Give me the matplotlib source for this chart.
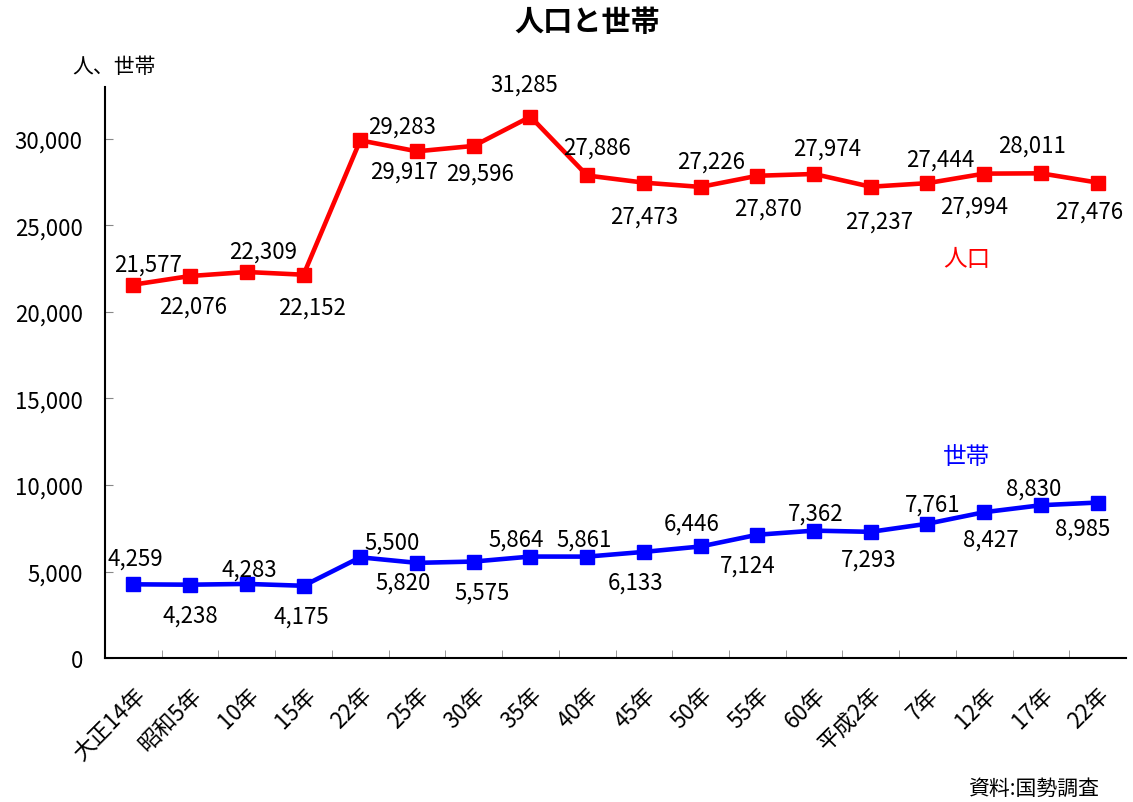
import numpy as np
import matplotlib.pyplot as plt

plt.rcParams['font.family'] = ['Noto Sans CJK JP', 'DejaVu Sans']

# データ
years = ["大正14年", "昭和5年", "10年", "15年", "22年", "25年", "30年", "35年", "40年",
         "45年", "50年", "55年", "60年", "平成2年", "7年", "12年", "17年", "22年"]
population = [21577, 22076, 22309, 22152, 29917, 29283, 29596, 31285, 27886,
              27473, 27226, 27870, 27974, 27237, 27444, 27994, 28011, 27476]
households = [4259, 4238, 4283, 4175, 5820, 5500, 5575, 5864, 5861,
              6133, 6446, 7124, 7362, 7293, 7761, 8427, 8830, 8985]

# ラベル位置(ピクセル, 点からのずれ, 下向きが正)
pop_off = [(15, -21), (3, 30), (16, -21), (8, 32), (44, 31), (-15, -25), (6, 27),
           (-6, -33), (10, -28), (0, 33), (11, -26), (11, 32), (13, -26), (8, 34),
           (13, -24), (-10, 32), (-9, -28), (-8, 29)]
hh_off = [(2, -26), (0, 30), (2, -15), (-2, 30), (43, 25), (-25, -21), (8, 31),
          (-14, -17), (-3, -17), (-8, 30), (-9, -23), (-10, 30), (2, -18), (-2, 27),
          (5, -20), (7, 27), (-7, -17), (-15, 26)]

fig = plt.figure(figsize=(11.33, 8.03), dpi=100)
ax = fig.add_axes([0.0927, 0.1793, 0.9011, 0.7111])

x = np.arange(len(years))
ax.plot(x, population, color='#ff0000', lw=3.3, marker='s', ms=10, clip_on=False)
ax.plot(x, households, color='#0000ff', lw=3.3, marker='s', ms=10, clip_on=False)

for i in range(len(x)):
    ax.annotate(f"{population[i]:,}", (x[i], population[i]),
                xytext=(pop_off[i][0], -pop_off[i][1]),
                textcoords='offset pixels', ha='center', va='center', fontsize=16)
    ax.annotate(f"{households[i]:,}", (x[i], households[i]),
                xytext=(hh_off[i][0], -hh_off[i][1]),
                textcoords='offset pixels', ha='center', va='center', fontsize=16)

ax.set_xlim(-0.5, len(years) - 0.5)
ax.set_ylim(0, 33000)
ax.set_yticks(np.arange(0, 30001, 5000))
ax.set_yticklabels([f"{v:,}" for v in range(0, 30001, 5000)], fontsize=16)
ax.tick_params(axis='y', length=6, direction='in', color='#888888', pad=16)

ax.set_xticks(x)
ax.set_xticklabels(years, rotation=45, ha='right', rotation_mode='anchor', fontsize=16)
ax.set_xticks(x[:-1] + 0.5, minor=True)
ax.tick_params(axis='x', which='major', length=0, pad=18)
ax.tick_params(axis='x', which='minor', length=6, direction='in', color='#888888')

for s in ['top', 'right']:
    ax.spines[s].set_visible(False)
for s in ['left', 'bottom']:
    ax.spines[s].set_linewidth(1.5)

fig.text(0.518, 0.973, "人口と世帯", ha='center', va='center', fontsize=21, fontweight='bold')
fig.text(0.101, 0.917, "人、世帯", ha='center', va='center', fontsize=15)
fig.text(0.853, 0.677, "人口", ha='center', va='center', fontsize=17, color='#ff0000')
fig.text(0.853, 0.430, "世帯", ha='center', va='center', fontsize=17, color='#0000ff')
fig.text(0.912, 0.018, "資料:国勢調査", ha='center', va='center', fontsize=15)

fig.savefig("out.png", dpi=100)
